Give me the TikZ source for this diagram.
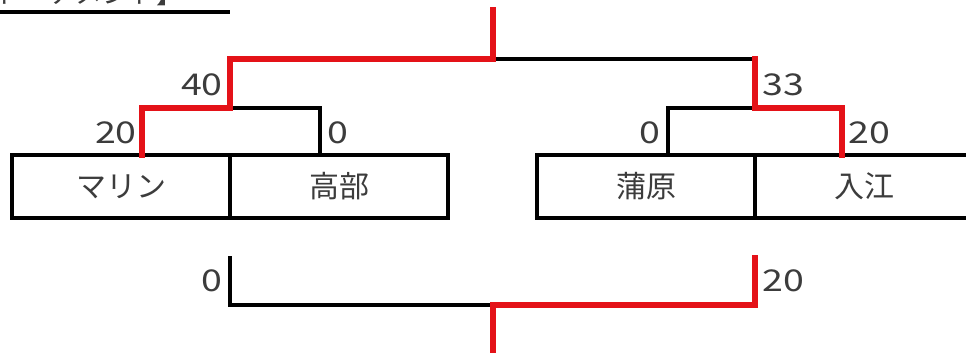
\documentclass[tikz,border=0pt]{standalone}
\usepackage{fontspec}
\setmainfont{Noto Sans CJK JP}
\newfontfamily\numfont[FakeStretch=1.25]{Noto Sans CJK JP}
\usepackage{xcolor}
\usepackage{tikz}
\usetikzlibrary{calc}

\definecolor{winred}{RGB}{228,18,24}
\definecolor{textgray}{RGB}{60,60,60}

\begin{document}
\begin{tikzpicture}[
x=1pt, y=-1pt,
team cell/.style = {draw, line width=3.4pt, minimum width=218pt, minimum height=63pt,
  inner sep=0pt, text=textgray, font=\fontsize{30}{30}\selectfont},
score/.style = {text=textgray, inner sep=0pt, font=\numfont\fontsize{30}{30}\selectfont},
lose line/.style = {line width=3.4pt, line cap=rect},
win line/.style = {winred, line width=5.5pt, line cap=rect}
]

\useasboundingbox (0,0) rectangle (966,353);

% title (cut by the page)
\node (title) at (184,4) [anchor=base east, inner sep=0pt, text=textgray,
  font=\fontsize{27}{27}\selectfont] {トーナメント】};
\coordinate (ulineL) at (0,12);
\coordinate (ulineR) at (230,12);
\draw[line width=3.4pt] (ulineL) -- (ulineR);

% teams
\node (marine)   at (121,186.5) [team cell] {マリン};
\node (takabe)   at (339,186.5) [team cell] {高部};
\node (kamahara) at (646,186.5) [team cell] {蒲原};
\node (irie)     at (864,186.5) [team cell] {入江};

% points where the bracket meets the boxes
\coordinate (marineFoot)   at (142,155);
\coordinate (takabeFoot)   at (320,155);
\coordinate (kamaharaFoot) at (668,155);
\coordinate (irieFoot)     at (842,155);

% junctions
\coordinate (semiL)  at (230,108);
\coordinate (semiR)  at (755,108);
\coordinate (finL)   at (230,59);
\coordinate (finR)   at (755,59);
\coordinate (champ)  at (493,59);
\coordinate (top)    at (493,10);

\coordinate (thirdL) at (230,258);
\coordinate (thirdR) at (755,258);
\coordinate (third)  at (493,305);
\coordinate (bottom) at (493,358);

% semi finals
\draw[lose line] (takabeFoot) |- (semiL);
\draw[lose line] (kamaharaFoot) |- (semiR);
\draw[win line] (marineFoot) |- (semiL);
\draw[win line] (irieFoot) |- (semiR);

% final
\draw[lose line] (champ) -- (finR);
\draw[win line] (semiR) -- (finR);
\draw[win line] (semiL) |- (champ) -- (top);

% third place
\draw[lose line] (thirdL) |- (third);
\draw[win line] (thirdR) |- (third) -- (bottom);

% scores
\node (s40) at (223,85)  [score, anchor=east] {40};
\node (s20) at (137,133) [score, anchor=east] {20};
\node (s0a) at (327,133) [score, anchor=west] {0};
\node (s33) at (762,85)  [score, anchor=west] {33};
\node (s0b) at (661,133) [score, anchor=east] {0};
\node (s20b) at (848,133) [score, anchor=west] {20};
\node (s0c) at (223,281) [score, anchor=east] {0};
\node (s20c) at (762,281) [score, anchor=west] {20};
\end{tikzpicture}
\end{document}
